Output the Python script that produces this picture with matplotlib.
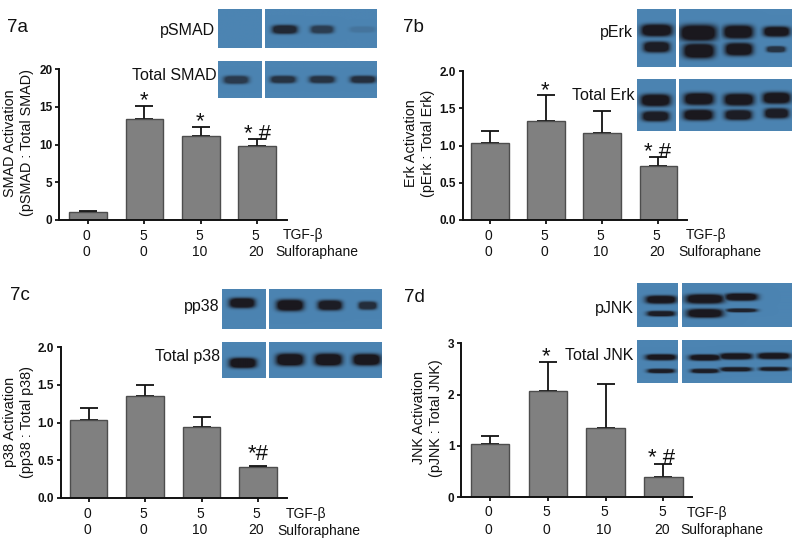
import numpy as np
import matplotlib
matplotlib.use("Agg")
import matplotlib.pyplot as plt

plt.rcParams['font.family'] = ['Liberation Sans', 'DejaVu Sans']

tgf_labels = ["0", "5", "5", "5"]
sulf_labels = ["0", "0", "10", "20"]

smad_mean = [1.0, 13.4, 11.2, 9.8]
smad_top = [1.2, 15.1, 12.4, 10.8]
smad_ticks = [0, 5, 10, 15, 20]
smad_tick_labels = ["0", "5", "10", "15", "20"]

erk_mean = [1.04, 1.33, 1.17, 0.73]
erk_top = [1.2, 1.68, 1.47, 0.85]
erk_ticks = [0, 0.5, 1.0, 1.5, 2.0]
erk_tick_labels = ["0.0", "0.5", "1.0", "1.5", "2.0"]

p38_mean = [1.04, 1.35, 0.94, 0.41]
p38_top = [1.2, 1.5, 1.08, 0.43]
p38_ticks = [0, 0.5, 1.0, 1.5, 2.0]
p38_tick_labels = ["0.0", "0.5", "1.0", "1.5", "2.0"]

jnk_mean = [1.04, 2.06, 1.35, 0.39]
jnk_top = [1.2, 2.63, 2.21, 0.65]
jnk_ticks = [0, 1, 2, 3]
jnk_tick_labels = ["0", "1", "2", "3"]

W, H = 800, 540
fig = plt.figure(figsize=(8, 5.4), dpi=100)
BLUE = np.array([76, 132, 178]) / 255
DARK = np.array([26, 24, 30]) / 255


def px_axes(l, t, r, b):
    return fig.add_axes([l / W, 1 - b / H, (r - l) / W, (b - t) / H])


def ftext(x, y, s, **kw):
    kw.setdefault("va", "center")
    kw.setdefault("color", "#111111")
    fig.text(x / W, 1 - y / H, s, **kw)


def blot(l, t, r, b, bands):
    # bands are (cx, cy, width, height, darkness) in picture pixels
    ax = px_axes(l, t, r, b)
    ax.axis("off")
    xs = np.arange(int(l), int(r) + 1) + 0.5
    ys = np.arange(int(t), int(b) + 1) + 0.5
    xx, yy = np.meshgrid(xs, ys)
    dens = np.zeros_like(xx)
    for cx, cy, w, h, d in bands:
        band = np.exp(-(np.abs(xx - cx) / (w / 2)) ** 4 - (np.abs(yy - cy) / (h / 2)) ** 3)
        dens = np.maximum(dens, d * np.clip(1.7 * band, 0, 1))
    img = BLUE[None, None, :] * (1 - dens[..., None]) + DARK[None, None, :] * dens[..., None]
    ax.imshow(img, extent=(xs[0] - .5, xs[-1] + .5, ys[-1] + .5, ys[0] - .5), aspect="auto", interpolation="bilinear")


def z(ox, oy, bands):
    # zoomed crop coords -> picture pixels
    return [(ox + b[0] / 3, oy + b[1] / 3, b[2] / 3, b[3] / 3, b[4]) for b in bands]


def panel(left, right, top, bottom, x0, step, bar_w, ymax, mean, err_top, ticks, tick_labels):
    ax = px_axes(left, top, right, bottom)
    ax.patch.set_visible(False)
    xpos = np.arange(4)
    ax.bar(xpos, mean, width=bar_w / step, color="#808080", edgecolor="#4d4d4d", linewidth=1.0, zorder=2)
    lower = np.zeros(4)
    upper = np.array(err_top) - np.array(mean)
    ax.errorbar(xpos, mean, yerr=[lower, upper], fmt="none", ecolor="#111111", elinewidth=1.3,
                capsize=6.8, capthick=1.3, zorder=1)
    ax.set_xlim((left - x0) / step, (right - x0) / step)
    ax.set_ylim(0, ymax)
    ax.set_yticks(ticks)
    ax.set_yticklabels(tick_labels, fontsize=8.5, fontweight="bold", color="#111111")
    ax.set_xticks(xpos)
    ax.set_xticklabels([])
    ax.tick_params(axis="both", length=3.2, width=1.3, pad=1.5, color="#111111")
    for side in ["top", "right"]:
        ax.spines[side].set_visible(False)
    for side in ["left", "bottom"]:
        ax.spines[side].set_linewidth(1.4)
        ax.spines[side].set_color("#111111")
    for i in xpos:
        px = x0 + i * step - 1.5
        ftext(px, bottom + 15.5, tgf_labels[i], ha="center", fontsize=10)
        ftext(px, bottom + 32.5, sulf_labels[i], ha="center", fontsize=10)
    return ax


# 7a
panel(59, 287, 69.3, 220, 88, 56.4, 37.5, 20, smad_mean, smad_top, smad_ticks, smad_tick_labels)
ftext(7, 27, "7a", fontsize=13.5)
ftext(10, 143, "SMAD Activation", rotation=90, ha="center", fontsize=10.4)
ftext(27, 143, "(pSMAD : Total SMAD)", rotation=90, ha="center", fontsize=10.4)
ftext(283, 235, "TGF-β", fontsize=10)
ftext(275, 252, "Sulforaphane", fontsize=10)
ftext(144, 101, "*", ha="center", fontsize=16)
ftext(200.5, 122, "*", ha="center", fontsize=16)
ftext(258, 134, "* #", ha="center", fontsize=16)
ftext(215, 30, "pSMAD", ha="right", fontsize=11.5)
ftext(217, 76, "Total SMAD", ha="right", fontsize=11.5)
blot(218, 9, 262, 48, [])
blot(265, 9, 377, 48, z(0, 0, [(855, 90, 75, 26, 0.85), (968, 90, 68, 24, 0.65), (1090, 90, 75, 18, 0.14)]))
blot(218, 61, 262, 98, z(0, 0, [(710, 241, 75, 24, 0.68)]))
blot(265, 61, 377, 98, z(0, 0, [(850, 240, 75, 22, 0.75), (968, 240, 75, 22, 0.75), (1092, 240, 75, 22, 0.78)]))

# 7b
panel(462.7, 687, 71.3, 220, 490, 56.1, 37.5, 2, erk_mean, erk_top, erk_ticks, erk_tick_labels)
ftext(403, 27, "7b", fontsize=13.5)
ftext(411, 143, "Erk Activation", rotation=90, ha="center", fontsize=10.4)
ftext(428, 143, "(pErk : Total Erk)", rotation=90, ha="center", fontsize=10.4)
ftext(686, 235, "TGF-β", fontsize=10)
ftext(678, 252, "Sulforaphane", fontsize=10)
ftext(545, 91, "*", ha="center", fontsize=16)
ftext(658, 152, "* #", ha="center", fontsize=16)
ftext(633, 33, "pErk", ha="right", fontsize=11.5)
ftext(634, 96, "Total Erk", ha="right", fontsize=11.5)
blot(637.3, 9, 675.7, 67, z(400, 0, [(770, 92, 92, 36, 1), (770, 143, 78, 32, 0.95)]))
blot(679, 9, 791.7, 67, z(400, 0, [(895, 100, 108, 48, 1), (897, 155, 92, 44, 1), (1015, 97, 88, 40, 1),
                                   (1017, 150, 82, 38, 1), (1130, 96, 78, 30, 1), (1128, 150, 56, 18, 0.75)]))
blot(637.3, 79, 675.7, 131, z(400, 0, [(767, 302, 88, 36, 1), (767, 351, 80, 30, 0.95)]))
blot(679, 79, 791.7, 131, z(400, 0, [(897, 298, 88, 36, 1), (895, 347, 88, 32, 1), (1017, 300, 88, 36, 1),
                                     (1015, 347, 80, 30, 0.95), (1130, 295, 82, 34, 1), (1130, 342, 72, 30, 0.95)]))

# 7c
panel(60.7, 287, 347.3, 498, 88.5, 56.5, 37.5, 2, p38_mean, p38_top, p38_ticks, p38_tick_labels)
ftext(10, 296, "7c", fontsize=13.5)
ftext(10, 422, "p38 Activation", rotation=90, ha="center", fontsize=10.4)
ftext(27, 422, "(pp38 : Total p38)", rotation=90, ha="center", fontsize=10.4)
ftext(286, 514, "TGF-β", fontsize=10)
ftext(277, 531, "Sulforaphane", fontsize=10)
ftext(258, 455, "*#", ha="center", fontsize=16)
ftext(219.5, 307, "pp38", ha="right", fontsize=11.5)
ftext(220, 357, "Total p38", ha="right", fontsize=11.5)
blot(222, 289.3, 266, 329, z(0, 270, [(728, 100, 78, 30, 0.98)]))
blot(269.3, 289.3, 381.7, 329, z(0, 270, [(870, 107, 80, 34, 1), (990, 107, 72, 30, 0.95), (1103, 108, 54, 24, 0.8)]))
blot(222, 342, 266, 378.3, z(0, 270, [(730, 282, 82, 30, 1)]))
blot(269.3, 342, 381.7, 378.3, z(0, 270, [(870, 272, 82, 36, 1), (985, 272, 82, 36, 1), (1100, 272, 82, 34, 1)]))

# 7d
panel(461, 692, 343.3, 497, 490, 57.8, 38.3, 3, jnk_mean, jnk_top, jnk_ticks, jnk_tick_labels)
ftext(404, 297, "7d", fontsize=13.5)
ftext(419, 418, "JNK Activation", rotation=90, ha="center", fontsize=10.4)
ftext(436, 418, "(pJNK : Total JNK)", rotation=90, ha="center", fontsize=10.4)
ftext(687, 513, "TGF-β", fontsize=10)
ftext(680, 530, "Sulforaphane", fontsize=10)
ftext(546, 357, "*", ha="center", fontsize=16)
ftext(662, 459, "* #", ha="center", fontsize=16)
ftext(633.5, 308, "pJNK", ha="right", fontsize=11.5)
ftext(633.5, 356, "Total JNK", ha="right", fontsize=11.5)
blot(637.3, 282.7, 678.3, 327.3, z(400, 270, [(785, 90, 92, 24, 1), (785, 133, 84, 16, 0.95)]))
blot(682, 282.7, 791.7, 327.3, z(400, 270, [(915, 88, 112, 28, 1), (915, 132, 106, 26, 1), (1024, 82, 96, 22, 1),
                                            (1025, 123, 90, 11, 0.9)]))
blot(637.3, 340, 678.3, 383, z(400, 270, [(785, 263, 92, 18, 1), (785, 305, 82, 13, 0.95)]))
blot(682, 340, 791.7, 383, z(400, 270, [(915, 264, 92, 18, 1), (915, 305, 82, 13, 0.95), (1008, 260, 96, 19, 1),
                                        (1008, 300, 92, 13, 0.95), (1122, 259, 96, 19, 1), (1122, 299, 86, 12, 0.95)]))

fig.savefig("out.png", dpi=100)
